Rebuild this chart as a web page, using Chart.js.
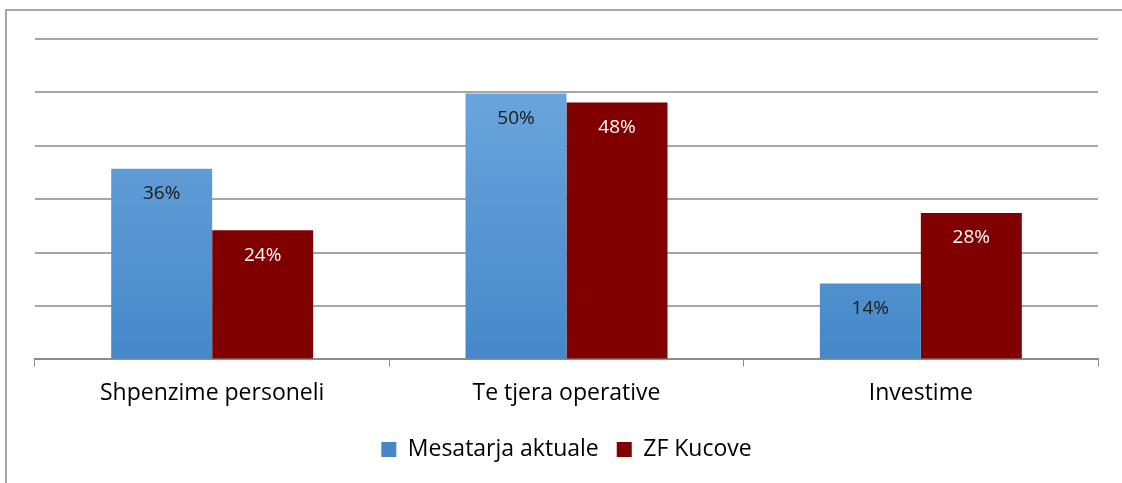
<!DOCTYPE html>
<html lang="sq">
<head>
    <meta charset="UTF-8">
    <title>Shpenzime</title>
    <script src="https://cdn.jsdelivr.net/npm/chart.js@4.4.1/dist/chart.umd.min.js"></script>
    <style>
        body { margin: 0; background: #fff; }
        .frame {
            position: absolute;
            left: 5px; top: 9px;
            width: 1140px; height: 500px;
            border: 2px solid #a6a6a6;
            box-sizing: border-box;
        }
        .wrap {
            position: absolute;
            left: 0; top: 0;
            width: 1122px; height: 483px;
        }
    </style>
</head>
<body>
    <div class="frame"></div>
    <div class="wrap">
        <canvas id="chart"></canvas>
    </div>

    <script>
        // te dhenat
        const categories = ['Shpenzime personeli', 'Te tjera operative', 'Investime'];
        const seriesNames = ['Mesatarja aktuale', 'ZF Kucove'];
        const mesatarja = [35.7, 49.8, 14.2];
        const kucove = [24.2, 48.1, 27.4];
        const mesatarjaLabels = ['36%', '50%', '14%'];
        const kucoveLabels = ['24%', '48%', '28%'];

        const FONT = '"Open Sans", sans-serif';

        function blueFill(context) {
            const chart = context.chart;
            const area = chart.chartArea;
            if (!area) return '#5b9bd5';
            const g = chart.ctx.createLinearGradient(0, area.top, 0, area.bottom);
            g.addColorStop(0, '#72aae0');
            g.addColorStop(1, '#4588c9');
            return g;
        }

        // etiketat brenda shtyllave
        const barLabels = {
            id: 'barLabels',
            afterDatasetsDraw(chart) {
                const ctx = chart.ctx;
                ctx.save();
                ctx.font = '19px ' + FONT;
                ctx.textAlign = 'center';
                ctx.textBaseline = 'middle';
                chart.data.datasets.forEach((ds, i) => {
                    const meta = chart.getDatasetMeta(i);
                    meta.data.forEach((bar, j) => {
                        ctx.fillStyle = ds.labelColor;
                        ctx.fillText(ds.valueLabels[j], bar.x, bar.y + 25);
                    });
                });
                ctx.restore();
            }
        };

        new Chart(document.getElementById('chart'), {
            type: 'bar',
            data: {
                labels: categories,
                datasets: [
                    {
                        label: seriesNames[0],
                        data: mesatarja,
                        valueLabels: mesatarjaLabels,
                        labelColor: '#1a1a1a',
                        backgroundColor: blueFill,
                        borderWidth: 0,
                        categoryPercentage: 0.57,
                        barPercentage: 1
                    },
                    {
                        label: seriesNames[1],
                        data: kucove,
                        valueLabels: kucoveLabels,
                        labelColor: '#ffffff',
                        backgroundColor: '#800000',
                        borderWidth: 0,
                        categoryPercentage: 0.57,
                        barPercentage: 1
                    }
                ]
            },
            options: {
                responsive: true,
                maintainAspectRatio: false,
                animation: false,
                layout: {
                    padding: { left: 35, right: 24, top: 39, bottom: 12 }
                },
                scales: {
                    x: {
                        grid: {
                            drawOnChartArea: false,
                            drawTicks: true,
                            tickLength: 7,
                            color: '#8c8c8c'
                        },
                        border: { display: true, color: '#8c8c8c', width: 2 },
                        ticks: {
                            color: '#000',
                            padding: 13,
                            font: { family: FONT, size: 23 }
                        }
                    },
                    y: {
                        min: 0,
                        max: 60,
                        ticks: { display: false, stepSize: 10 },
                        grid: {
                            color: '#a6a6a6',
                            lineWidth: 2,
                            drawTicks: false
                        },
                        border: { display: false }
                    }
                },
                plugins: {
                    legend: {
                        position: 'bottom',
                        labels: {
                            color: '#000',
                            boxWidth: 15,
                            boxHeight: 15,
                            padding: 18,
                            font: { family: FONT, size: 23 }
                        }
                    },
                    tooltip: { enabled: false }
                }
            },
            plugins: [barLabels]
        });
    </script>
</body>
</html>
